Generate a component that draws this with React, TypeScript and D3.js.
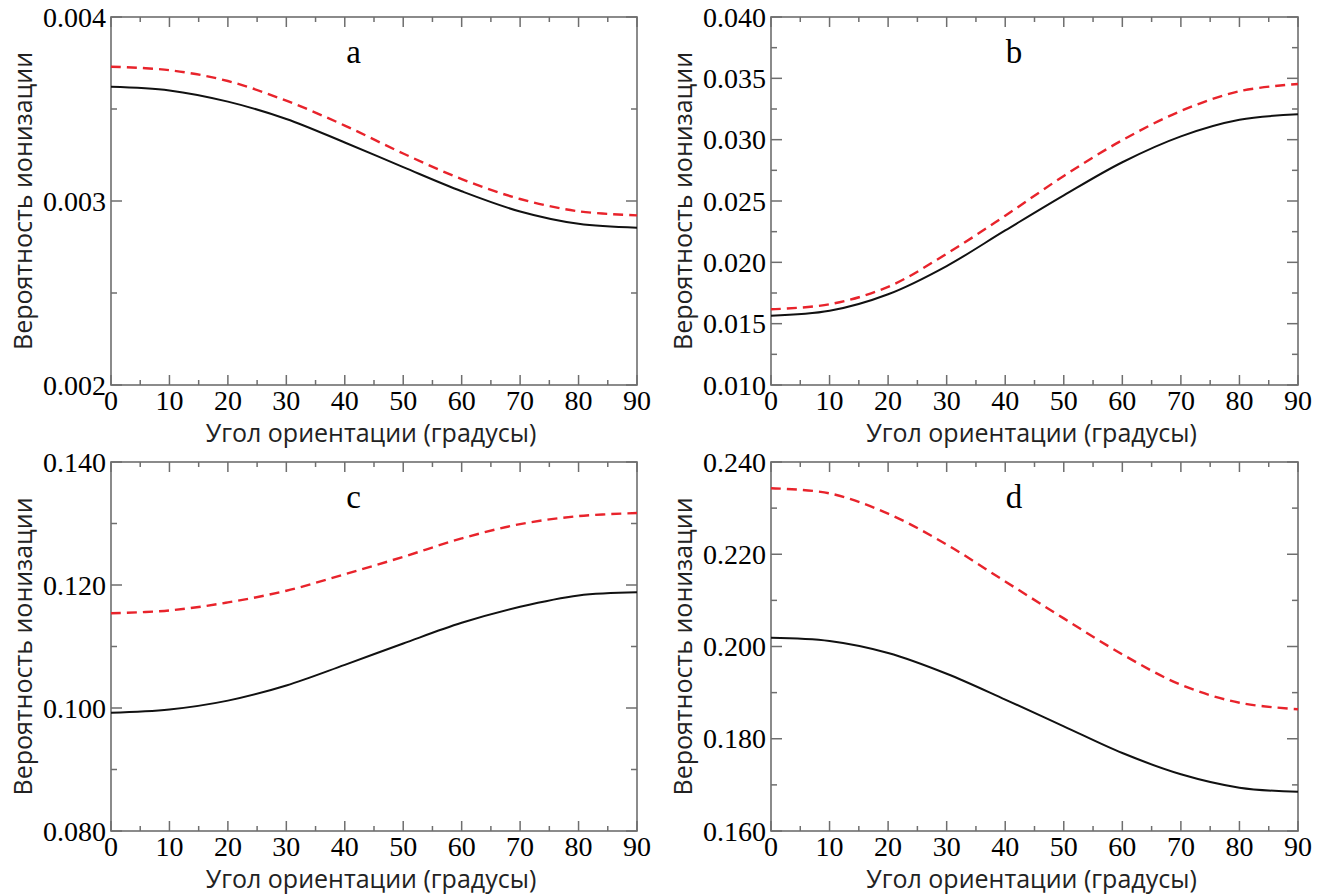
import React, { useEffect, useRef } from "react";
import * as d3 from "d3";

// orientation angle, degrees
const angles = [0, 10, 20, 30, 40, 50, 60, 70, 80, 90];

// ionization probability (solid black / dashed red)
const aBlack = [0.003621, 0.003601, 0.00354, 0.003446, 0.003318, 0.003184, 0.003053, 0.002943, 0.002876, 0.002855];
const aRed = [0.00373, 0.003711, 0.003652, 0.003545, 0.00341, 0.003258, 0.003119, 0.003011, 0.002944, 0.002922];
const bBlack = [0.01565, 0.01605, 0.0174, 0.0197, 0.0226, 0.02546, 0.02816, 0.03027, 0.03162, 0.03207];
const bRed = [0.01617, 0.01658, 0.018, 0.0207, 0.0238, 0.02704, 0.02996, 0.03234, 0.03395, 0.03454];
const cBlack = [0.09924, 0.09976, 0.1012, 0.10367, 0.10702, 0.11049, 0.11385, 0.11645, 0.1183, 0.11881];
const cRed = [0.1154, 0.11586, 0.11717, 0.11907, 0.12174, 0.12458, 0.12757, 0.1299, 0.1312, 0.1317];
const dBlack = [0.2019, 0.2012, 0.1986, 0.1941, 0.1885, 0.1827, 0.1769, 0.1723, 0.1694, 0.1685];
const dRed = [0.2343, 0.2332, 0.2288, 0.2221, 0.2141, 0.2061, 0.1983, 0.1917, 0.1878, 0.1864];

const xTicks = [0, 10, 20, 30, 40, 50, 60, 70, 80, 90];
const aTicks = [0.002, 0.003, 0.004];
const bTicks = [0.01, 0.015, 0.02, 0.025, 0.03, 0.035, 0.04];
const cTicks = [0.08, 0.1, 0.12, 0.14];
const dTicks = [0.16, 0.18, 0.2, 0.22, 0.24];

const panels = [
  { label: "a", black: aBlack, red: aRed, ticks: aTicks, minor: 0.0005, box: [111, 17, 637, 385] },
  { label: "b", black: bBlack, red: bRed, ticks: bTicks, minor: 0.0025, box: [771, 17, 1298, 385] },
  { label: "c", black: cBlack, red: cRed, ticks: cTicks, minor: 0.01, box: [111, 462, 637, 831] },
  { label: "d", black: dBlack, red: dRed, ticks: dTicks, minor: 0.01, box: [771, 462, 1298, 831] },
];

const SERIF = "'Liberation Serif', 'Times New Roman', serif";
const SANS = "'Open Sans', 'Noto Sans', sans-serif";
const FRAME = "#6e6e6e";

export default function App() {
  const ref = useRef<SVGSVGElement>(null);

  useEffect(() => {
    const svg = d3.select(ref.current);
    svg.selectAll("*").remove();

    panels.forEach((p) => {
      const [x0, y0, x1, y1] = p.box;
      const lo = p.ticks[0];
      const hi = p.ticks[p.ticks.length - 1];
      const x = d3.scaleLinear().domain([0, 90]).range([x0, x1]);
      const y = d3.scaleLinear().domain([lo, hi]).range([y1, y0]);
      const g = svg.append("g");

      // minor ticks (every 5 deg / half step), inward on all four sides
      const xMinor = d3.range(5, 90, 10);
      const yMinor = d3.range(lo + p.minor, hi, p.minor * 2);

      const tick = (ax: number, ay: number, bx: number, by: number) =>
        g.append("line").attr("x1", ax).attr("y1", ay).attr("x2", bx).attr("y2", by)
          .attr("stroke", FRAME).attr("stroke-width", 1.5);

      xTicks.forEach((t) => { tick(x(t), y1, x(t), y1 - 10); tick(x(t), y0, x(t), y0 + 10); });
      xMinor.forEach((t) => { tick(x(t), y1, x(t), y1 - 5); tick(x(t), y0, x(t), y0 + 5); });
      p.ticks.forEach((t) => { tick(x0, y(t), x0 + 11, y(t)); tick(x1, y(t), x1 - 11, y(t)); });
      yMinor.forEach((t) => { tick(x0, y(t), x0 + 6, y(t)); tick(x1, y(t), x1 - 6, y(t)); });

      g.append("rect").attr("x", x0).attr("y", y0).attr("width", x1 - x0).attr("height", y1 - y0)
        .attr("fill", "none").attr("stroke", FRAME).attr("stroke-width", 1.6);

      // tick labels
      g.selectAll(".xl").data(xTicks).join("text").attr("class", "xl")
        .attr("x", (d) => x(d)).attr("y", y1 + 25).attr("text-anchor", "middle")
        .attr("font-family", SERIF).attr("font-size", 28).attr("fill", "#000")
        .text((d) => d);
      g.selectAll(".yl").data(p.ticks).join("text").attr("class", "yl")
        .attr("x", x0 - 5).attr("y", (d) => y(d)).attr("dy", "0.34em").attr("text-anchor", "end")
        .attr("font-family", SERIF).attr("font-size", 28).attr("fill", "#000")
        .text((d) => d3.format(".3f")(d));

      // curves
      const line = d3.line<number>().x((_, i) => x(angles[i])).y((d) => y(d)).curve(d3.curveCatmullRom.alpha(0.5));
      g.append("path").attr("d", line(p.black)).attr("fill", "none").attr("stroke", "#111").attr("stroke-width", 2);
      g.append("path").attr("d", line(p.red)).attr("fill", "none").attr("stroke", "#e8232b")
        .attr("stroke-width", 2.4).attr("stroke-dasharray", "10,6");

      // panel letter
      g.append("text").attr("x", x(41.5)).attr("y", y0 + 46).attr("text-anchor", "middle")
        .attr("font-family", SERIF).attr("font-size", 33).attr("fill", "#000").text(p.label);

      // axis titles
      g.append("text").attr("x", (x0 + x1) / 2 - 3).attr("y", y1 + 57).attr("text-anchor", "middle")
        .attr("font-family", SANS).attr("font-size", 25).attr("fill", "#222")
        .text("Угол ориентации (градусы)");
      const cy = (y0 + y1) / 2;
      g.append("text").attr("transform", `translate(${x0 - 79},${cy}) rotate(-90)`).attr("text-anchor", "middle")
        .attr("font-family", SANS).attr("font-size", 25).attr("fill", "#222")
        .text("Вероятность ионизации");
    });
  }, []);

  return (
    <svg ref={ref} width={1333} height={896} style={{ position: "absolute", left: 0, top: 0, background: "#fff" }} />
  );
}
